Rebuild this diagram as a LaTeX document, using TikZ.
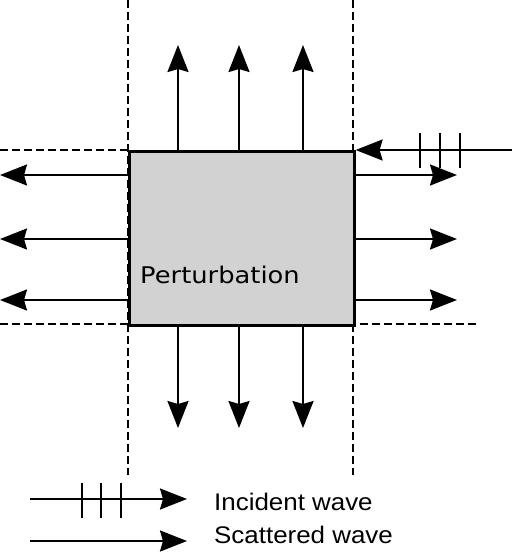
\documentclass[tikz,border=0pt]{standalone}
\usepackage{fontspec}
\setmainfont{DejaVu Sans}
\newfontfamily\legendfont{Liberation Sans}
\usetikzlibrary{arrows.meta}
\begin{document}
\begin{tikzpicture}[x=1pt,y=-1pt,
  wave/.style={line width=2.2pt, -{Stealth[length=27pt,width=21pt,inset=3pt]}},
  bound/.style={line width=1.7pt, dash pattern=on 8pt off 4pt},
  tick/.style={line width=2pt},
  lbl/.style={font=\fontsize{23}{27}\selectfont, inner sep=0pt},
  leg/.style={font=\legendfont\fontsize{24}{28}\selectfont, inner sep=0pt}]
\useasboundingbox (0,0) rectangle (512,552);
% boundaries
\draw[bound] (128,0) -- (128,475);
\draw[bound] (353,0) -- (353,475);
\draw[bound] (0,150) -- (128,150);
\draw[bound] (0,324) -- (478,324);
% perturbation box
\node[draw, line width=2.6pt, fill=gray!35, minimum width=225pt, minimum height=174pt, inner sep=0pt, anchor=north west] (pert) at (128,150) {};
\node[lbl, anchor=base west] (ptxt) at (140,283) {\scalebox{1.12}[1]{Perturbation}};
% scattered waves
\foreach \x [count=\i] in {178,239,303} {
  \coordinate (t\i) at (\x,45);
  \coordinate (b\i) at (\x,428);
  \draw[wave] (\x,150) -- (t\i);
  \draw[wave] (\x,324) -- (b\i);
}
\foreach \y [count=\i] in {175,239,300} {
  \coordinate (l\i) at (0,\y);
  \coordinate (r\i) at (457,\y);
  \draw[wave] (128,\y) -- (l\i);
  \draw[wave] (353,\y) -- (r\i);
}
% incident wave
\coordinate (inc) at (512,150);
\draw[wave] (inc) -- (pert.north east);
\foreach \x in {420,440,460} \draw[tick] (\x,133) -- (\x,168);
% legend
\coordinate (la1) at (30,499);
\coordinate (lb1) at (187,499);
\coordinate (la2) at (30,541);
\coordinate (lb2) at (187,541);
\draw[wave] (la1) -- (lb1);
\foreach \x in {82,101,121} \draw[tick] (\x,483) -- (\x,518);
\draw[wave] (la2) -- (lb2);
\node[leg, anchor=base west] (linc) at (214,510) {\scalebox{1.08}[1]{Incident wave}};
\node[leg, anchor=base west] (lsca) at (214,543) {\scalebox{1.08}[1]{Scattered wave}};
\end{tikzpicture}
\end{document}
